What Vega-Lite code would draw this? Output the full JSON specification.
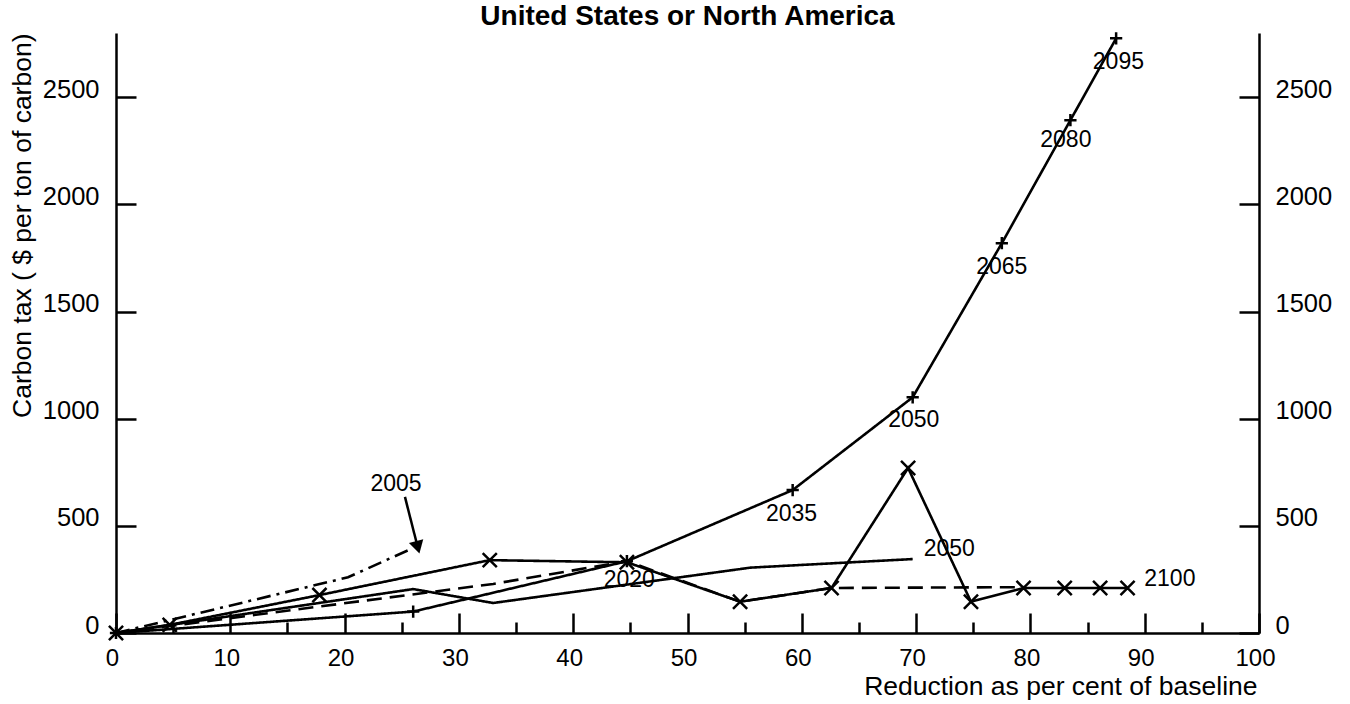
{
  "$schema": "https://vega.github.io/schema/vega-lite/v6.json",
  "width": 1143,
  "height": 600,
  "autosize": {"type": "none"},
  "padding": {"left": 116, "top": 33, "right": 91, "bottom": 71},
  "background": "white",
  "title": {"text": "United States or North America", "font": "Liberation Sans", "fontSize": 28, "fontWeight": "bold", "color": "black", "anchor": "middle", "frame": "group", "baseline": "alphabetic", "offset": -26},
  "config": {
    "view": {"stroke": null},
    "axis": {"grid": false, "domainColor": "black", "domainWidth": 2.5, "tickColor": "black", "tickWidth": 2.5, "labelColor": "black", "labelFont": "Liberation Sans", "labelFontSize": 24, "titleFont": "Liberation Sans", "titleFontSize": 26.5, "titleFontWeight": "normal", "titleColor": "black", "labelFlush": false, "labelOverlap": false, "format": "d"}
  },
  "datasets": {
    "lines": [
      {"s": "plus", "x": 0, "y": 0},
      {"s": "plus", "x": 26, "y": 100},
      {"s": "plus", "x": 44.7, "y": 335},
      {"s": "plus", "x": 59.2, "y": 667},
      {"s": "plus", "x": 69.7, "y": 1100},
      {"s": "plus", "x": 77.5, "y": 1819},
      {"s": "plus", "x": 83.5, "y": 2393},
      {"s": "plus", "x": 87.5, "y": 2775},
      {"s": "xs", "x": 0, "y": 0},
      {"s": "xs", "x": 4.7, "y": 38},
      {"s": "xs", "x": 17.8, "y": 177},
      {"s": "xs", "x": 32.7, "y": 340},
      {"s": "xs", "x": 44.7, "y": 330},
      {"s": "xs", "x": 54.6, "y": 146},
      {"s": "xs", "x": 62.6, "y": 210},
      {"s": "xs", "x": 69.3, "y": 770},
      {"s": "xs", "x": 74.8, "y": 146},
      {"s": "xs", "x": 79.4, "y": 210},
      {"s": "xs", "x": 83, "y": 210},
      {"s": "xs", "x": 86.1, "y": 210},
      {"s": "xs", "x": 88.5, "y": 210},
      {"s": "flat", "x": 0, "y": 0},
      {"s": "flat", "x": 26, "y": 205},
      {"s": "flat", "x": 33, "y": 140},
      {"s": "flat", "x": 55.5, "y": 305},
      {"s": "flat", "x": 69.7, "y": 345},
      {"s": "dashed", "x": 0, "y": 0},
      {"s": "dashed", "x": 33, "y": 229},
      {"s": "dashed", "x": 44.7, "y": 335},
      {"s": "dashed", "x": 54.6, "y": 146},
      {"s": "dashed", "x": 62.6, "y": 210},
      {"s": "dashed", "x": 79.4, "y": 214},
      {"s": "dashdot", "x": 0, "y": 0},
      {"s": "dashdot", "x": 20.3, "y": 260},
      {"s": "dashdot", "x": 25.8, "y": 392}
    ],
    "labels": [
      {"t": "2020", "x": 44.9, "y": 247},
      {"t": "2035", "x": 59.1, "y": 557},
      {"t": "2050", "x": 69.8, "y": 994},
      {"t": "2065", "x": 77.5, "y": 1710},
      {"t": "2080", "x": 83.1, "y": 2300},
      {"t": "2095", "x": 87.7, "y": 2667},
      {"t": "2005", "x": 24.5, "y": 695},
      {"t": "2050", "x": 72.9, "y": 394},
      {"t": "2100", "x": 92.2, "y": 254}
    ],
    "arrow": [
      {"x": 25.28, "y": 635, "x2": 26.4, "y2": 400}
    ]
  },
  "layer": [
    {
      "data": {"name": "lines"},
      "mark": {"type": "line", "color": "black", "strokeWidth": 2.6},
      "encoding": {
        "x": {"field": "x", "type": "quantitative", "scale": {"domain": [0, 100], "nice": false, "zero": false},
          "axis": {"orient": "bottom", "values": [0, 10, 20, 30, 40, 50, 60, 70, 80, 90, 100], "tickSize": -20, "labelPadding": 33, "labelBaseline": "top", "labelOffset": -4, "title": "Reduction as per cent of baseline", "titleAlign": "right", "titleBaseline": "alphabetic", "titleX": 1141, "titleY": 61}},
        "y": {"field": "y", "type": "quantitative", "scale": {"domain": [0, 2800], "nice": false, "zero": false},
          "axis": {"orient": "left", "values": [0, 500, 1000, 1500, 2000, 2500], "tickSize": -20, "labelPadding": 37, "labelOffset": -8, "labelFontSize": 25.5, "title": "Carbon tax ( $ per ton of carbon)", "titleAngle": -90, "titleAlign": "right", "titleBaseline": "alphabetic", "titleX": -86, "titleY": 0}},
        "detail": {"field": "s"},
        "strokeDash": {"field": "s", "type": "nominal", "legend": null,
          "scale": {"domain": ["plus", "xs", "flat", "dashed", "dashdot"], "range": [[1, 0], [1, 0], [1, 0], [15, 8], [14, 6, 3, 6]]}}
      }
    },
    {
      "data": {"name": "lines"},
      "transform": [{"filter": "datum.s === 'xs'"}],
      "mark": {"type": "point", "shape": "M-1,-1L1,1M-1,1L1,-1", "size": 200, "filled": false, "stroke": "black", "strokeWidth": 2.5, "opacity": 1},
      "encoding": {
        "x": {"field": "x", "type": "quantitative",
          "axis": {"orient": "bottom", "values": [5, 15, 25, 35, 45, 55, 65, 75, 85, 95], "tickSize": -11, "labels": false, "domain": false, "title": null}},
        "y": {"field": "y", "type": "quantitative",
          "axis": {"orient": "right", "values": [0, 500, 1000, 1500, 2000, 2500], "tickSize": -20, "labelPadding": 36, "labelOffset": -8, "labelFontSize": 25.5, "title": null}}
      }
    },
    {
      "data": {"name": "lines"},
      "transform": [{"filter": "datum.s === 'plus'"}],
      "mark": {"type": "point", "shape": "M-1,0L1,0M0,-1L0,1", "size": 150, "filled": false, "stroke": "black", "strokeWidth": 2.5, "opacity": 1},
      "encoding": {
        "x": {"field": "x", "type": "quantitative", "axis": null},
        "y": {"field": "y", "type": "quantitative", "axis": null}
      }
    },
    {
      "data": {"name": "labels"},
      "mark": {"type": "text", "font": "Liberation Sans", "fontSize": 23, "color": "black", "align": "center", "baseline": "middle"},
      "encoding": {
        "x": {"field": "x", "type": "quantitative", "axis": null},
        "y": {"field": "y", "type": "quantitative", "axis": null},
        "text": {"field": "t"}
      }
    },
    {
      "data": {"name": "arrow"},
      "mark": {"type": "rule", "color": "black", "strokeWidth": 2.5},
      "encoding": {
        "x": {"field": "x", "type": "quantitative", "axis": null},
        "y": {"field": "y", "type": "quantitative", "axis": null},
        "x2": {"field": "x2"},
        "y2": {"field": "y2"}
      }
    },
    {
      "data": {"name": "arrow"},
      "mark": {"type": "point", "shape": "triangle-down", "size": 220, "filled": true, "fill": "black", "stroke": null, "opacity": 1, "angle": 345},
      "encoding": {
        "x": {"field": "x2", "type": "quantitative", "axis": null},
        "y": {"field": "y2", "type": "quantitative", "axis": null}
      }
    }
  ],
  "resolve": {"axis": {"x": "independent", "y": "independent"}}
}
